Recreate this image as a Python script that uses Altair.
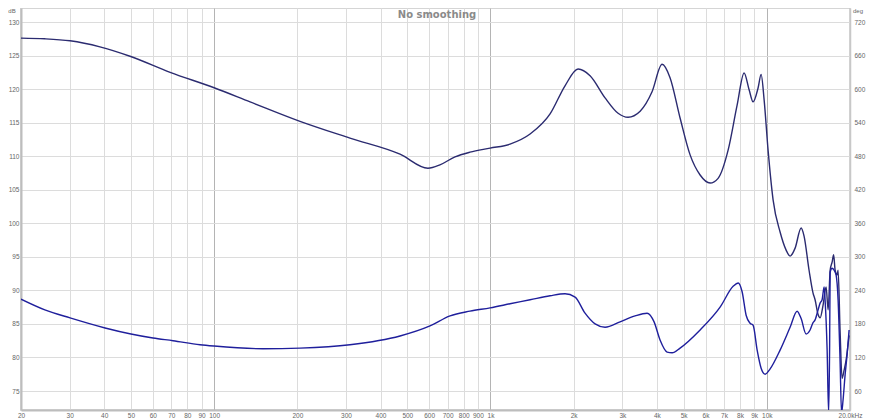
import altair as alt
import pandas as pd

# ---- data ----
upper_freq = [20, 24.4, 30.1, 38.6, 49.6, 69.3, 100, 134.9, 204.5, 310, 470.6, 594, 656, 744, 843, 997,
              1177, 1391, 1643, 1861, 2075, 2293, 2598, 2896, 3147, 3480, 3843, 4177, 4465, 4854, 5277,
              5736, 6235, 6663, 7243, 7808, 8276, 8628, 8921, 9301, 9537, 9778, 10106, 10537, 11170,
              11745, 12140, 12660, 13310, 13640, 14220, 14700, 14950, 15330, 15590, 15980, 16390, 16670,
              16950, 17230, 17450, 17670, 17960, 18110, 18410, 18720, 19040, 19360, 19850]
upper_db = [127.6, 127.5, 127.2, 126.3, 124.9, 122.5, 120.2, 118.1, 115.2, 112.7, 110.3, 108.2, 108.7,
            109.9, 110.6, 111.2, 111.8, 113.3, 116.3, 120.5, 123.0, 122.0, 118.7, 116.4, 115.8, 116.7,
            119.6, 123.7, 121.7, 115.7, 110.2, 107.2, 106.0, 106.7, 110.9, 117.6, 122.4, 119.9, 118.1,
            120.2, 122.2, 118.4, 110.9, 103.5, 98.7, 96.0, 95.1, 96.3, 99.3, 98.1, 93.0, 89.6, 88.6,
            86.4, 85.9, 87.8, 90.5, 87.1, 93.0, 94.2, 95.3, 93.0, 92.3, 93.0, 84.1, 76.9, 78.1, 79.6, 83.3]

lower_freq = [20, 24.4, 30.1, 40.3, 50.0, 60.1, 71.0, 88.9, 100, 150.3, 204.5, 310, 470.6, 604, 714, 843,
              997, 1177, 1391, 1643, 1861, 2024, 2199, 2391, 2598, 2944, 3337, 3687, 3909, 4108, 4357,
              4542, 4854, 5736, 6775, 7552, 7874, 8140, 8416, 8700, 8921, 9226, 9537, 9860, 10280, 11170,
              12140, 12870, 13310, 13870, 14340, 14700, 14950, 15330, 15590, 15850, 16120, 16250, 16530,
              16740, 16880, 16950, 17230, 17520, 17810, 18110, 18410, 18640, 18880, 19200, 19520, 19850]
lower_db = [88.7, 87.1, 85.9, 84.4, 83.5, 82.9, 82.5, 81.9, 81.7, 81.3, 81.4, 81.9, 83.2, 84.7, 86.2, 86.9,
            87.4, 88.0, 88.6, 89.2, 89.5, 89.0, 86.6, 85.0, 84.5, 85.3, 86.2, 86.6, 85.3, 82.6, 80.8,
            80.7, 81.4, 84.1, 87.5, 90.6, 91.1, 89.8, 86.3, 85.1, 84.8, 81.1, 78.4, 77.5, 78.3, 81.1,
            84.5, 86.9, 85.8, 83.5, 84.1, 85.2, 85.6, 87.1, 88.1, 88.6, 90.5, 88.6, 81.1, 71.7, 82.0,
            92.7, 93.3, 93.0, 92.3, 88.6, 79.6, 71.7, 73.7, 77.4, 80.4, 84.1]

freq_ticks = [20, 30, 40, 50, 60, 70, 80, 90, 100, 200, 300, 400, 500, 600, 700, 800, 900, 1000,
              2000, 3000, 4000, 5000, 6000, 7000, 8000, 9000, 10000, 20000]
db_ticks = [75, 80, 85, 90, 95, 100, 105, 110, 115, 120, 125, 130]
deg_ticks = [60, 120, 180, 240, 300, 360, 420, 480, 540, 600, 660, 720]

DB_DOMAIN = [72.17, 132.09]
DEG_DOMAIN = [720 - (130 - DB_DOMAIN[0]) * 12, 720 + (DB_DOMAIN[1] - 130) * 12]

df = pd.concat([
    pd.DataFrame({"f": upper_freq, "db": upper_db, "s": "upper"}),
    pd.DataFrame({"f": lower_freq, "db": lower_db, "s": "lower"}),
])

FONT = "Liberation Sans"
LBL = "#666666"
FS = 6.5

xaxis = alt.Axis(
    values=freq_ticks, title=None, ticks=False, labelFontSize=FS, labelColor=LBL, labelFont=FONT,
    labelPadding=2, labelOverlap=False, labelFlush=False,
    labelExpr="datum.value == 20000 ? '20.0kHz' : (datum.value >= 1000 ? (datum.value/1000) + 'k' : datum.value)",
    gridColor={"condition": {"test": "datum.value == 100 || datum.value == 1000 || datum.value == 10000",
                             "value": "#b4b4b4"}, "value": "#dcdcdc"},
    gridWidth=1, domainColor="#bdbdbd", domainWidth=2,
)
xscale = alt.Scale(type="log", domain=[20, 20000], nice=False)

lines = alt.Chart(df).mark_line(strokeWidth=1.4, clip=True, interpolate="monotone").encode(
    x=alt.X("f:Q", scale=xscale, axis=xaxis),
    y=alt.Y("db:Q", scale=alt.Scale(domain=DB_DOMAIN, nice=False, zero=False),
            axis=alt.Axis(values=db_ticks, title=None, ticks=False, labelFontSize=FS, labelColor=LBL,
                          labelFont=FONT, labelPadding=2, gridColor="#dcdcdc",
                          domainColor="#bdbdbd", domainWidth=2)),
    color=alt.Color("s:N", scale=alt.Scale(domain=["upper", "lower"], range=["#2b2b70", "#1f1f9c"]),
                    legend=None),
    detail="s:N",
)

deg_df = pd.DataFrame({"deg": deg_ticks, "f": 1000})
right = alt.Chart(deg_df).mark_point(opacity=0).encode(
    x=alt.X("f:Q", scale=xscale),
    y=alt.Y("deg:Q", scale=alt.Scale(domain=DEG_DOMAIN, nice=False, zero=False),
            axis=alt.Axis(orient="right", values=deg_ticks, title=None, ticks=False, grid=False,
                          labelFontSize=FS, labelColor=LBL, labelFont=FONT, labelPadding=4,
                          domainColor="#c8c8c8", domainWidth=1.5)),
)

title = alt.Chart(pd.DataFrame({"t": ["No smoothing"]})).mark_text(
    font="DejaVu Sans", fontSize=10, fontWeight="bold", color="#8a8a8a", baseline="middle", align="center"
).encode(x=alt.value(416), y=alt.value(7), text="t:N")

db_lbl = alt.Chart(pd.DataFrame({"t": ["dB"]})).mark_text(
    font=FONT, fontSize=6, color=LBL, baseline="top", align="center"
).encode(x=alt.value(-9), y=alt.value(0), text="t:N")

deg_lbl = alt.Chart(pd.DataFrame({"t": ["deg"]})).mark_text(
    font=FONT, fontSize=6, color=LBL, baseline="top", align="center"
).encode(x=alt.value(837), y=alt.value(0), text="t:N")

chart = alt.layer(lines, right, title, db_lbl, deg_lbl).resolve_scale(y="independent").properties(
    width=829, height=402,
    autosize=alt.AutoSizeParams(type="none"),
    padding={"left": 13, "top": 0, "right": 19, "bottom": 9},
    background="white",
).configure_view(stroke="#c8c8c8", strokeWidth=1.5)

chart.save("out.html", embed_options={"renderer": "svg", "actions": False})
